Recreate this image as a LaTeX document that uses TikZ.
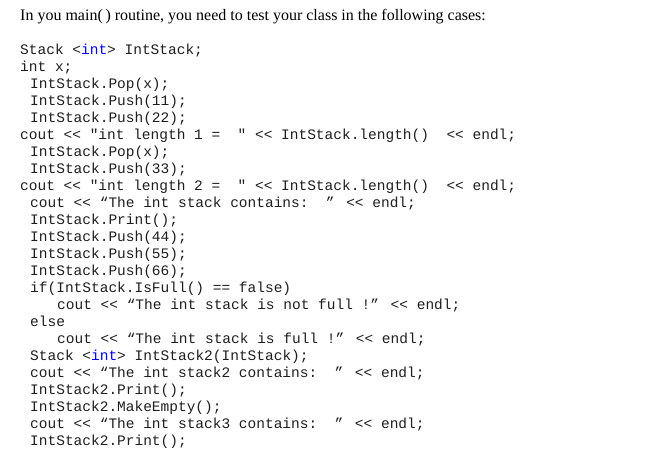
\documentclass[tikz,border=0pt]{standalone}
\usepackage{fontspec}
\setmainfont{Liberation Serif}
\newfontfamily\codefont{Liberation Mono}
\definecolor{kw}{RGB}{0,0,255}
\definecolor{ct}{RGB}{30,30,30}
\begin{document}
\begin{tikzpicture}[x=1pt,y=-1pt,
  cl/.style={anchor=base west,inner sep=0pt,font=\codefont\fontsize{14.5}{16}\selectfont,text=ct}]
\useasboundingbox (0,0) rectangle (654,452);
\node[anchor=base west,inner sep=0pt,font=\fontsize{16}{18}\selectfont] (title) at (20,21) {In you main(\,) routine, you need to test your class in the following cases:};
\def\L#1#2#3{\node[cl] (l#1) at (#2,{54.5+17*#1}) {#3};}
\L{0}{20}{Stack <\textcolor{kw}{int}> IntStack;}
\L{1}{20}{int x;}
\L{2}{30}{IntStack.Pop(x);}
\L{3}{30}{IntStack.Push(11);}
\L{4}{30}{IntStack.Push(22);}
\L{5}{20}{cout << "int length 1 = ~" << IntStack.length()~~<< endl;}
\L{6}{30}{IntStack.Pop(x);}
\L{7}{30}{IntStack.Push(33);}
\L{8}{20}{cout << "int length 2 = ~" << IntStack.length()~~<< endl;}
\L{9}{30}{cout << “The int stack contains:~~” << endl;}
\L{10}{30}{IntStack.Print();}
\L{11}{30}{IntStack.Push(44);}
\L{12}{30}{IntStack.Push(55);}
\L{13}{30}{IntStack.Push(66);}
\L{14}{30}{if(IntStack.IsFull() == false)}
\L{15}{57}{cout << “The int stack is not full !” << endl;}
\L{16}{30}{else}
\L{17}{57}{cout << “The int stack is full !” << endl;}
\L{18}{30}{Stack <\textcolor{kw}{int}> IntStack2(IntStack);}
\L{19}{30}{cout << “The int stack2 contains:~~” << endl;}
\L{20}{30}{IntStack2.Print();}
\L{21}{30}{IntStack2.MakeEmpty();}
\L{22}{30}{cout << “The int stack3 contains:~~” << endl;}
\L{23}{30}{IntStack2.Print();}
\end{tikzpicture}
\end{document}
